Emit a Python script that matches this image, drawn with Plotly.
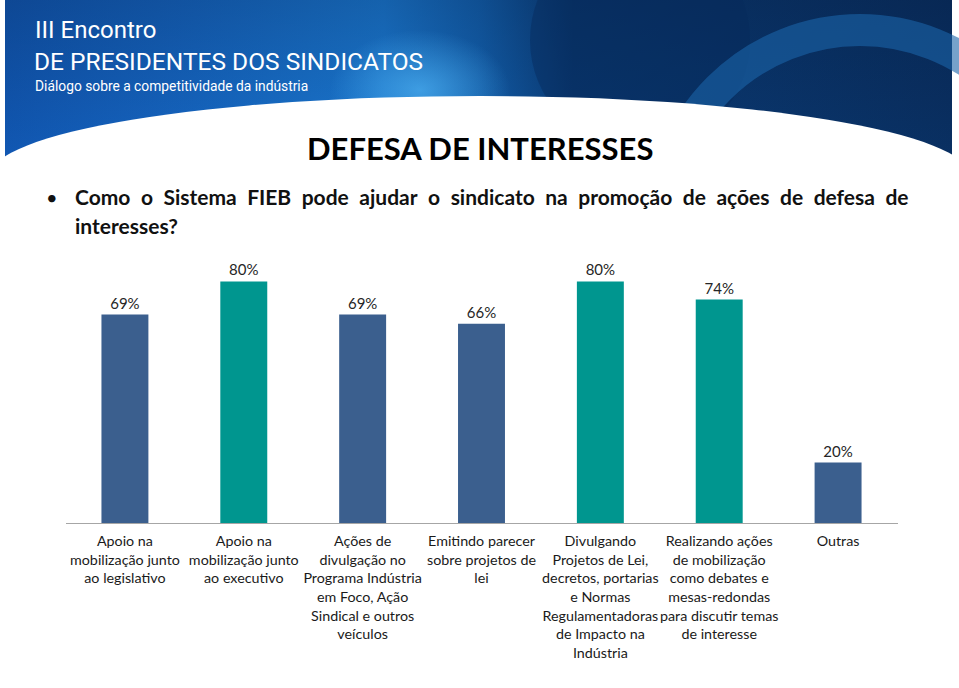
import base64
import plotly.graph_objects as go

# ---- data ----
categories = [
    "Apoio na<br>mobilização junto<br>ao legislativo",
    "Apoio na<br>mobilização junto<br>ao executivo",
    "Ações de<br>divulgação no<br>Programa Indústria<br>em Foco, Ação<br>Sindical e outros<br>veículos",
    "Emitindo parecer<br>sobre projetos de<br>lei",
    "Divulgando<br>Projetos de Lei,<br>decretos, portarias<br>e Normas<br>Regulamentadoras<br>de Impacto na<br>Indústria",
    "Realizando ações<br>de mobilização<br>como debates e<br>mesas-redondas<br>para discutir temas<br>de interesse",
    "Outras",
]
values = [69, 80, 69, 66, 80, 74, 20]

BLUE = "#3B5F8E"
TEAL = "#00968F"
bar_colors = [TEAL if v >= 70 else BLUE for v in values]

W, H = 959, 688

def px(x):
    return x / W

def py(y):
    return 1 - y / H

# ---- banner (decorative svg) ----
svg = """<svg xmlns='http://www.w3.org/2000/svg' width='959' height='200' viewBox='0 0 959 200'>
<defs>
<linearGradient id='g' x1='0' y1='0' x2='1' y2='0'>
<stop offset='0' stop-color='#125cbb'/>
<stop offset='0.2' stop-color='#176ccc'/>
<stop offset='0.4' stop-color='#1c7fdc'/>
<stop offset='0.5' stop-color='#1466b8'/>
<stop offset='0.6' stop-color='#0b3f7c'/>
<stop offset='1' stop-color='#0a3266'/>
</linearGradient>
<linearGradient id='v' x1='0' y1='0' x2='0' y2='1'>
<stop offset='0' stop-color='#000a20' stop-opacity='0.25'/>
<stop offset='1' stop-color='#000a20' stop-opacity='0'/>
</linearGradient>
<radialGradient id='h' cx='0.5' cy='0.5' r='0.5'>
<stop offset='0' stop-color='#4fb4f5' stop-opacity='0.7'/>
<stop offset='1' stop-color='#4fb4f5' stop-opacity='0'/>
</radialGradient>
</defs>
<rect x='5' y='0' width='947' height='200' fill='url(#g)'/>
<rect x='5' y='0' width='947' height='200' fill='url(#v)'/>
<ellipse cx='420' cy='90' rx='90' ry='60' fill='url(#h)'/>
<circle cx='640' cy='40' r='110' fill='#062a5a' fill-opacity='0.45'/>
<circle cx='860' cy='230' r='200' fill='none' stroke='#1a64a8' stroke-opacity='0.6' stroke-width='32'/>
<ellipse cx='480' cy='176' rx='490' ry='80' fill='white'/>
<rect x='0' y='176' width='959' height='30' fill='white'/>
</svg>"""
src = "data:image/svg+xml;base64," + base64.b64encode(svg.encode()).decode()

fig = go.Figure(
    go.Bar(
        x=list(range(len(values))),
        y=values,
        marker=dict(color=bar_colors, line=dict(width=0)),
        text=[f"{v}%" for v in values],
        textposition="outside",
        textfont=dict(family="Lato, sans-serif", size=15, color="#262626"),
        cliponaxis=False,
        width=0.395,
        hoverinfo="skip",
    )
)

fig.update_layout(
    width=W,
    height=H,
    margin=dict(l=0, r=0, t=0, b=0),
    paper_bgcolor="white",
    plot_bgcolor="rgba(0,0,0,0)",
    showlegend=False,
    xaxis=dict(
        domain=[px(65.5), px(897.5)],
        range=[-0.5, len(values) - 0.5],
        tickmode="array",
        tickvals=list(range(len(values))),
        ticktext=categories,
        tickangle=0,
        tickfont=dict(family="Lato, sans-serif", size=14.3, color="#1a1a1a"),
        ticklabelstandoff=5,
        showline=True,
        linecolor="#A6A6A6",
        linewidth=1,
        ticks="",
        showgrid=False,
        zeroline=False,
        fixedrange=True,
    ),
    yaxis=dict(
        domain=[py(523), py(221)],
        range=[0, 100],
        visible=False,
        fixedrange=True,
    ),
    images=[dict(
        source=src, xref="paper", yref="paper", x=0, y=1,
        sizex=1, sizey=200 / H, xanchor="left", yanchor="top",
        sizing="stretch", layer="below",
    )],
)

SP = "\u2002"
line1 = SP.join("Como o Sistema FIEB pode ajudar o sindicato na promoção de ações de defesa de".split(" "))

ann = []
ann.append(dict(text="III Encontro", x=px(33), y=py(30), xanchor="left", yanchor="middle",
                font=dict(family="Roboto, sans-serif", size=24, color="white")))
ann.append(dict(text="DE PRESIDENTES DOS SINDICATOS", x=px(32), y=py(62), xanchor="left", yanchor="middle",
                font=dict(family="Roboto, sans-serif", size=24.5, color="white")))
ann.append(dict(text="Diálogo sobre a competitividade da indústria", x=px(33), y=py(86), xanchor="left", yanchor="middle",
                font=dict(family="Roboto, sans-serif", size=13.8, color="white")))
ann.append(dict(text="<b>DEFESA DE INTERESSES</b>", x=px(480), y=py(148), xanchor="center", yanchor="middle",
                font=dict(family="Lato, sans-serif", size=31, color="#000000")))
ann.append(dict(text="•", x=px(52), y=py(197), xanchor="center", yanchor="middle",
                font=dict(family="Lato, sans-serif", size=20, color="#111111")))
ann.append(dict(text=f"<b>{line1}</b>",
                x=px(73), y=py(197), xanchor="left", yanchor="middle",
                font=dict(family="Lato, sans-serif", size=21, color="#111111")))
ann.append(dict(text="<b>interesses?</b>", x=px(73), y=py(226), xanchor="left", yanchor="middle",
                font=dict(family="Lato, sans-serif", size=21, color="#111111")))
for a in ann:
    a.update(xref="paper", yref="paper", showarrow=False)
fig.update_layout(annotations=ann)

fig.write_html(
    "out.html",
    config={"displayModeBar": False},
    post_script="document.body.style.margin='0';document.body.style.overflow='hidden';",
)
